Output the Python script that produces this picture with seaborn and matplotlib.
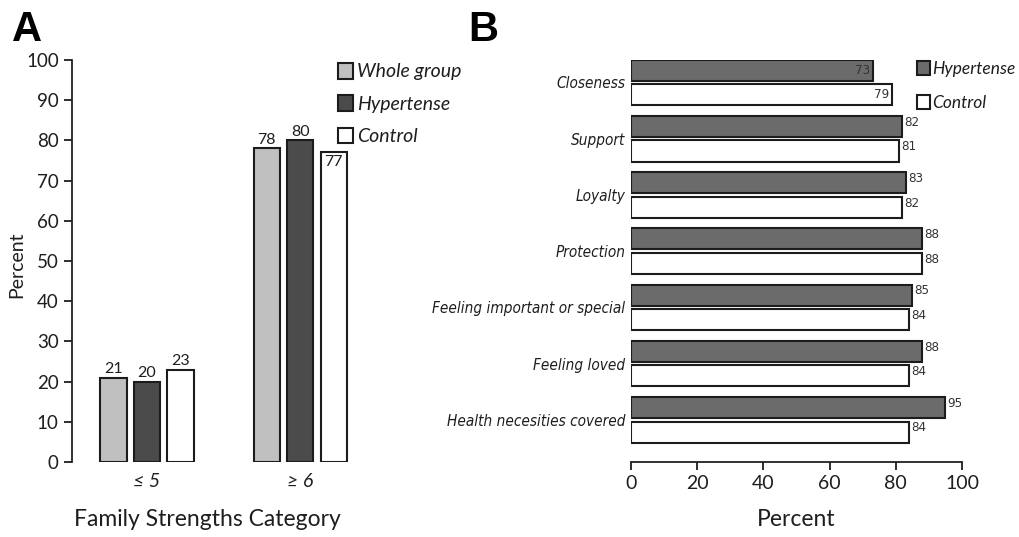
import matplotlib
matplotlib.use("Agg")
import matplotlib.pyplot as plt
from matplotlib import font_manager as fm
import seaborn as sns
import pandas as pd

# ---- Panel A: family strengths category ----
categories_a = ["≤ 5", "≥ 6"]
groups_a = ["Whole group", "Hypertense", "Control"]
whole_group = [21, 78]
hypertense_a = [20, 80]
control_a = [23, 77]

# ---- Panel B: individual family strengths ----
items_b = ["Closeness", "Support", "Loyalty", "Protection",
           "Feeling important or special", "Feeling loved",
           "Health necesities covered"]
groups_b = ["Hypertense", "Control"]
hypertense_b = [73, 82, 83, 88, 85, 88, 95]
control_b = [79, 81, 82, 88, 84, 84, 84]

sns.set_theme(style="ticks")
plt.rcParams["font.family"] = ["Lato", "DejaVu Sans"]
plt.rcParams["text.color"] = "#1e1e1e"
plt.rcParams["axes.labelcolor"] = "#1e1e1e"
plt.rcParams["xtick.color"] = "#1e1e1e"
plt.rcParams["ytick.color"] = "#1e1e1e"

installed = {f.name for f in fm.fontManager.ttflist}
if "Liberation Sans Narrow" in installed:
    narrow = dict(family=["Liberation Sans Narrow", "DejaVu Sans"])
else:
    narrow = dict(family=["DejaVu Sans"], stretch="condensed")

EDGE = "#1c1c1c"
W, H = 1020, 537
fig = plt.figure(figsize=(W / 100, H / 100), dpi=100)
axA = fig.add_axes([72 / W, 1 - 462 / H, 320 / W, 402 / H])
axB = fig.add_axes([631 / W, 1 - 462 / H, 331 / W, 402 / H])

# ---------------- Panel A ----------------
dfA = pd.DataFrame({
    "category": categories_a * 3,
    "group": [g for g in groups_a for _ in categories_a],
    "percent": whole_group + hypertense_a + control_a,
})
sns.barplot(data=dfA, x="category", y="percent", hue="group",
            order=categories_a, hue_order=groups_a,
            palette=["#c0c0c0", "#4b4b4b", "#ffffff"], saturation=1,
            width=0.657, gap=0.22, edgecolor=EDGE, linewidth=1.5,
            errorbar=None, ax=axA)
axA.set_xlim(-0.49, 1.6)
axA.set_ylim(0, 100)
axA.set_yticks(range(0, 101, 10))
axA.tick_params(axis="y", labelsize=13.5, length=6, width=1.3)
axA.tick_params(axis="x", length=0, labelsize=14, pad=8)
for t in axA.get_xticklabels():
    t.set_fontstyle("italic")
for s in ("top", "right", "bottom"):
    axA.spines[s].set_visible(False)
axA.spines["left"].set_linewidth(1.3)
axA.spines["left"].set_color("#222222")
axA.set_ylabel("Percent", fontsize=14)
axA.yaxis.set_label_coords(-0.147, 0.49)
axA.set_xlabel("Family Strengths Category", fontsize=16.5)
axA.xaxis.set_label_coords((207 - 72) / 320, -(520 - 462) / 402)
axA.xaxis.label.set_verticalalignment("center")

inside_a = {("≥ 6", "Control")}
for grp, cont, vals in zip(groups_a, axA.containers,
                           [whole_group, hypertense_a, control_a]):
    for cat, bar, v in zip(categories_a, cont, vals):
        cx = bar.get_x() + bar.get_width() / 2
        if (cat, grp) in inside_a:
            axA.annotate(f"{v}", (cx, v), xytext=(0, -2), textcoords="offset points",
                         ha="center", va="top", fontsize=11.5)
        else:
            axA.annotate(f"{v}", (cx, v), xytext=(0, 1), textcoords="offset points",
                         ha="center", va="bottom", fontsize=11.5)

hA, lA = axA.get_legend_handles_labels()
axA.legend(hA, lA, loc="upper left", bbox_to_anchor=(338 / W, 1 - 63 / H),
           bbox_transform=fig.transFigure, frameon=False,
           handlelength=0.75, handleheight=0.85, handletextpad=0.25,
           labelspacing=0.76, borderaxespad=0, borderpad=0,
           prop=dict(style="italic", size=14))

# ---------------- Panel B ----------------
dfB = pd.DataFrame({
    "item": items_b * 2,
    "group": [g for g in groups_b for _ in items_b],
    "percent": hypertense_b + control_b,
})
sns.barplot(data=dfB, y="item", x="percent", hue="group", orient="h",
            order=items_b, hue_order=groups_b,
            palette=["#6b6b6b", "#ffffff"], saturation=1,
            width=0.872, gap=0.14, edgecolor=EDGE, linewidth=1.5,
            errorbar=None, ax=axB)
axB.set_xlim(0, 100)
axB.set_ylim(6.75, -0.4)
axB.set_xticks(range(0, 101, 20))
axB.tick_params(axis="x", labelsize=14, length=6, width=1.3)
axB.tick_params(axis="y", length=0, pad=4)
for t in axB.get_yticklabels():
    t.set_fontstyle("italic")
    t.set_fontsize(11)
    t.set_fontfamily(narrow["family"])
    if "stretch" in narrow:
        t.set_fontstretch(narrow["stretch"])
for s in ("top", "right", "left"):
    axB.spines[s].set_visible(False)
axB.spines["bottom"].set_linewidth(1.3)
axB.spines["bottom"].set_color("#222222")
axB.set_ylabel("")
axB.set_xlabel("Percent", fontsize=16.5)
axB.xaxis.set_label_coords(0.5, -(520 - 462) / 402)
axB.xaxis.label.set_verticalalignment("center")

inside_b = {"Closeness"}
for cont, vals in zip(axB.containers, [hypertense_b, control_b]):
    for item, bar, v in zip(items_b, cont, vals):
        cy = bar.get_y() + bar.get_height() / 2
        if item in inside_b:
            axB.annotate(f"{v}", (v, cy), xytext=(-2, 0), textcoords="offset points",
                         ha="right", va="center", fontsize=9.5, color="#333333", **narrow)
        else:
            axB.annotate(f"{v}", (v, cy), xytext=(1.5, 3), textcoords="offset points",
                         ha="left", va="center", fontsize=9.5, color="#333333", **narrow)

hB, lB = axB.get_legend_handles_labels()
axB.legend(hB, lB, loc="upper left", bbox_to_anchor=(917 / W, 1 - 61 / H),
           bbox_transform=fig.transFigure, frameon=False,
           handlelength=0.75, handleheight=0.9, handletextpad=0.1,
           labelspacing=1.0, borderaxespad=0, borderpad=0,
           prop=dict(style="italic", size=12.5))

# panel letters
fig.text(12 / W, 1 - 10 / H, "A", ha="left", va="top", fontsize=30,
         weight="bold", family="Liberation Sans", color="black")
fig.text(468 / W, 1 - 10 / H, "B", ha="left", va="top", fontsize=30,
         weight="bold", family="Liberation Sans", color="black")

fig.savefig("out.png", dpi=100, facecolor="white")
